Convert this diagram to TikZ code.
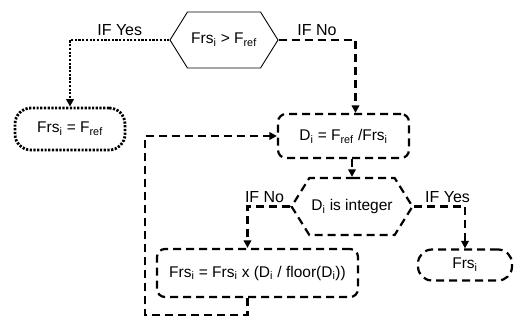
\documentclass[tikz,border=0pt]{standalone}
\usepackage{fontspec}
\setmainfont{Liberation Sans}
\usetikzlibrary{shapes.symbols,arrows.meta}
\newcommand{\sub}[1]{\textsubscript{#1}}
\begin{document}
\begin{tikzpicture}[
  x=1pt, y=-1pt,
  every node/.style={font=\fontsize{15.5}{18}\selectfont, align=center, inner sep=2pt},
  dashline/.style={line width=2.2pt, dash pattern=on 8pt off 5pt},
  dotline/.style={line width=2.8pt, dash pattern=on 2.2pt off 1.5pt},
  hexa/.style={draw, signal, signal to=west and east, signal pointer angle=116},
  procbox/.style={draw, rectangle, rounded corners=8pt},
  terminal/.style={draw, rectangle, rounded corners=16pt},
  flow/.style={-{Triangle[length=7.5pt,width=7.5pt]}},
  lbl/.style={font=\fontsize{16}{18}\selectfont, above, inner sep=3pt}
]
\useasboundingbox (0,0) rectangle (515,327);
\node[hexa, line width=0.9pt, minimum width=108pt, minimum height=56pt] (cmp) at (224,40)
  {Frs\sub{i} > F\sub{ref}};
\node[terminal, dotline, minimum width=110pt, minimum height=42pt] (fix) at (70,129)
  {Frs\sub{i} = F\sub{ref}};
\node[procbox, dashline, minimum width=131pt, minimum height=44pt] (div) at (343.5,136)
  {D\sub{i} = F\sub{ref} /Frs\sub{i}};
\node[hexa, dashline, minimum width=110pt, minimum height=57pt] (chk) at (352,206.5)
  {D\sub{i} is integer};
\node[procbox, dashline, minimum width=201pt, minimum height=48pt] (upd) at (257.5,273)
  {Frs\sub{i} = Frs\sub{i} x (D\sub{i} / floor(D\sub{i}))};
\node[terminal, dashline, rounded corners=14pt, minimum width=94pt, minimum height=31pt] (out) at (465,265)
  {Frs\sub{i}};
\coordinate (back) at (145,315);
% branches of the first test
\draw[flow, dotline] (cmp.west) -| node[lbl, pos=0.25] {IF Yes} (fix.north);
\draw[flow, dashline] (cmp.east) -| node[lbl, pos=0.25] {IF No} ([xshift=12pt]div.north);
\draw[flow, dashline] (chk.north |- div.south) -- (chk.north);
% branches of the integer test
\draw[flow, dashline] (chk.west) -| node[lbl, pos=0.3] {IF No} ([xshift=-10pt]upd.north);
\draw[flow, dashline] (chk.east) -| node[lbl, pos=0.33] {IF Yes} (out.north);
% loop back
\draw[flow, dashline] ([xshift=-10pt]upd.south) |- (back) |- (div.west);
\end{tikzpicture}
\end{document}
